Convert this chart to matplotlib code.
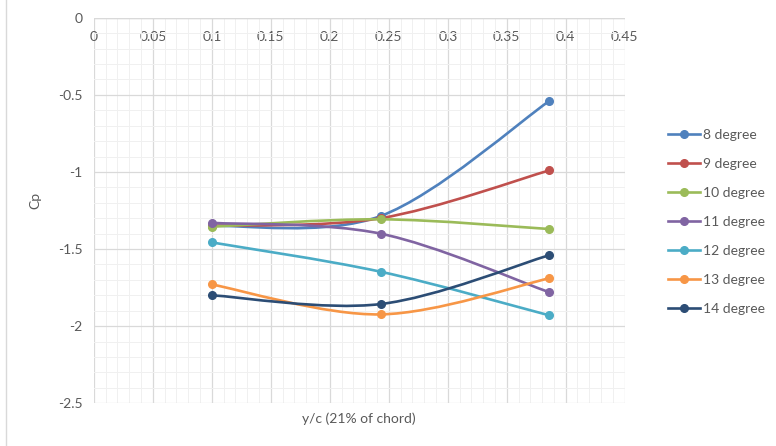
import numpy as np
import matplotlib.pyplot as plt
from matplotlib.path import Path
from matplotlib.patches import PathPatch
from matplotlib.lines import Line2D
from matplotlib.ticker import MultipleLocator

plt.rcParams['font.family'] = ['Lato', 'DejaVu Sans']

# Data
yc = [0.1, 0.243, 0.386]
cp_8 = [-1.35, -1.286, -0.54]
cp_9 = [-1.35, -1.30, -0.99]
cp_10 = [-1.355, -1.307, -1.37]
cp_11 = [-1.33, -1.40, -1.78]
cp_12 = [-1.457, -1.647, -1.93]
cp_13 = [-1.73, -1.924, -1.69]
cp_14 = [-1.80, -1.857, -1.54]

labels = ["8 degree", "9 degree", "10 degree", "11 degree",
          "12 degree", "13 degree", "14 degree"]
colors = ["#4F81BD", "#C0504D", "#9BBB59", "#8064A2",
          "#4BACC6", "#F79646", "#2C4D75"]
series = [cp_8, cp_9, cp_10, cp_11, cp_12, cp_13, cp_14]


def smooth_path(x, y):
    # Excel-like smoothed line: cubic bezier through the points
    p = np.column_stack([x, y])
    n = len(p)
    verts = [p[0]]
    codes = [Path.MOVETO]
    for i in range(n - 1):
        p0 = p[i - 1] if i > 0 else p[i]
        p3 = p[i + 2] if i + 2 < n else p[i + 1]
        c1 = p[i] + (p[i + 1] - p0) / 6
        c2 = p[i + 1] - (p3 - p[i]) / 6
        verts += [c1, c2, p[i + 1]]
        codes += [Path.CURVE4] * 3
    return Path(verts, codes)


fig = plt.figure(figsize=(7.76, 4.46), dpi=100)
ax = fig.add_axes([0.121, 0.096, 0.684, 0.864])

for vals, col in zip(series, colors):
    ax.add_patch(PathPatch(smooth_path(yc, vals), facecolor="none",
                           edgecolor=col, lw=1.9, capstyle="round", zorder=3))
    ax.plot(yc, vals, "o", color=col, ms=5.5, zorder=4)

ax.set_xlim(0, 0.45)
ax.set_ylim(-2.5, 0)
ax.xaxis.set_major_locator(MultipleLocator(0.05))
ax.xaxis.set_minor_locator(MultipleLocator(0.01))
ax.yaxis.set_major_locator(MultipleLocator(0.5))
ax.yaxis.set_minor_locator(MultipleLocator(0.1))
ax.set_xticks(np.arange(0, 0.451, 0.05))
ax.set_xticklabels(["0", "0.05", "0.1", "0.15", "0.2", "0.25", "0.3", "0.35", "0.4", "0.45"])
ax.set_yticks([0, -0.5, -1, -1.5, -2, -2.5])
ax.set_yticklabels(["0", "-0.5", "-1", "-1.5", "-2", "-2.5"])

ax.grid(which="major", color="#d9d9d9", lw=0.9)
ax.grid(which="minor", color="#f0f0f0", lw=0.7)
ax.set_axisbelow(True)
for s in ax.spines.values():
    s.set_visible(False)
ax.axhline(0, color="#d9d9d9", lw=1, zorder=2)

ax.tick_params(axis="x", which="both", length=0, labeltop=True,
               labelbottom=False, pad=-18, labelsize=10, labelcolor="#595959")
ax.tick_params(axis="y", which="both", length=0, pad=8,
               labelsize=10, labelcolor="#595959")

fig.text(0.463, 0.062, "y/c (21% of chord)", ha="center", va="center",
         fontsize=10, color="#595959")
fig.text(0.046, 0.55, "Cp", rotation=90, ha="center", va="center",
         fontsize=10, color="#595959")

handles = [Line2D([0], [0], color=c, lw=1.9, marker="o", ms=5.5) for c in colors]
fig.legend(handles, labels, loc="upper left", bbox_to_anchor=(0.845, 0.738),
           frameon=False, fontsize=10, labelcolor="#595959",
           handlelength=2.3, handletextpad=0.2, labelspacing=1.22)

fig.add_artist(Line2D([0.008, 0.008], [0, 1], color="#d9d9d9", lw=1))

fig.savefig("out.png", dpi=100)
